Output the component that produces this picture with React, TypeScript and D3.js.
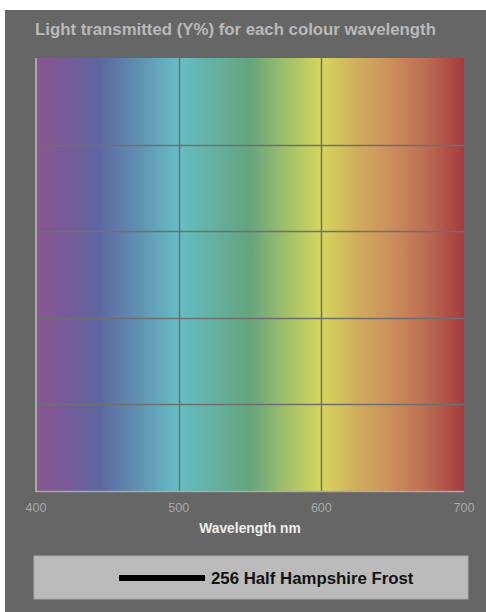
import React from "react";
import * as d3 from "d3";

const wavelengthTicks = [400, 500, 600, 700];
const yTicks = [0, 20, 40, 60, 80, 100];
const spectrumStops = [400, 420, 445, 475, 500, 525, 550, 575, 600, 625, 650, 675, 700];
const spectrumColors = [
  "#8a5590", "#785a98", "#5c67a1", "#6096b3", "#67bdc6", "#64b0a1", "#64a47d",
  "#a0bf6a", "#d6d65c", "#d1ad5e", "#cc8d5d", "#ba6a51", "#a53a3c",
];
const seriesName = "256 Half Hampshire Frost";
const seriesWavelengths: number[] = [];
const seriesValues: number[] = [];

export default function App() {
  const W = 481, H = 602;
  const ox = 5, oy = 10;
  const left = 36 - ox, right = 464 - ox, top = 58 - oy, bottom = 491 - oy;
  const x = d3.scaleLinear().domain([400, 700]).range([left, right]);
  const y = d3.scaleLinear().domain([0, 100]).range([bottom, top]);
  const line = d3.line<number>().x((d, i) => x(seriesWavelengths[i])).y((d) => y(d));
  const font = "'Liberation Sans', Arial, sans-serif";
  return (
    <div style={{ position: "absolute", left: 0, top: 0, width: 486, height: 612, background: "#fff" }}>
      <svg width={W} height={H} style={{ position: "absolute", left: ox, top: oy, display: "block" }}>
        <defs>
          <linearGradient id="spec" x1={x(400)} x2={x(700)} y1={0} y2={0} gradientUnits="userSpaceOnUse">
            {spectrumStops.map((s, i) => (
              <stop key={s} offset={(s - 400) / 300} stopColor={spectrumColors[i]} />
            ))}
          </linearGradient>
        </defs>
        <rect x={0} y={0} width={W} height={H} fill="#666666" />
        <text x={35 - ox} y={34.5 - oy} fill="#b9b9b9" fontFamily={font} fontWeight="bold" fontSize={16.8}>
          Light transmitted (Y%) for each colour wavelength
        </text>
        <rect x={left} y={top} width={right - left} height={bottom - top} fill="url(#spec)" />
        {yTicks.slice(1, -1).map((t) => (
          <line key={t} x1={left} x2={right} y1={Math.round(y(t)) + 0.5} y2={Math.round(y(t)) + 0.5} stroke="#6f6f6f" strokeWidth={1.5} />
        ))}
        {wavelengthTicks.slice(1, -1).map((t) => (
          <line key={t} x1={Math.round(x(t)) + 0.5} x2={Math.round(x(t)) + 0.5} y1={top} y2={bottom} stroke="#6f6f6f" strokeWidth={1.5} />
        ))}
        <line x1={left} x2={left} y1={top} y2={bottom + 1} stroke="#a9a9a9" strokeWidth={2} />
        <line x1={left} x2={right} y1={bottom + 0.5} y2={bottom + 0.5} stroke="#a9a9a9" strokeWidth={1.5} />
        {seriesValues.length > 0 && (
          <path d={line(seriesValues) || ""} fill="none" stroke="#000" strokeWidth={4} />
        )}
        {wavelengthTicks.map((t) => (
          <text key={t} x={x(t)} y={512 - oy} textAnchor="middle" fill="#a8a8a8" fontFamily={font} fontSize={12.5}>
            {t}
          </text>
        ))}
        <text x={(left + right) / 2} y={533 - oy} textAnchor="middle" fill="#eeeeee" fontFamily={font} fontWeight="bold" fontSize={13.8}>
          Wavelength nm
        </text>
        <rect x={34 - ox} y={556 - oy} width={434} height={43} fill="#bbbbbb" stroke="#aaaaaa" strokeWidth={1} />
        <line x1={119 - ox} x2={205 - ox} y1={578 - oy} y2={578 - oy} stroke="#000" strokeWidth={6} />
        <text x={211 - ox} y={584 - oy} fill="#111" fontFamily={font} fontWeight="bold" fontSize={16.8}>
          {seriesName}
        </text>
      </svg>
    </div>
  );
}
